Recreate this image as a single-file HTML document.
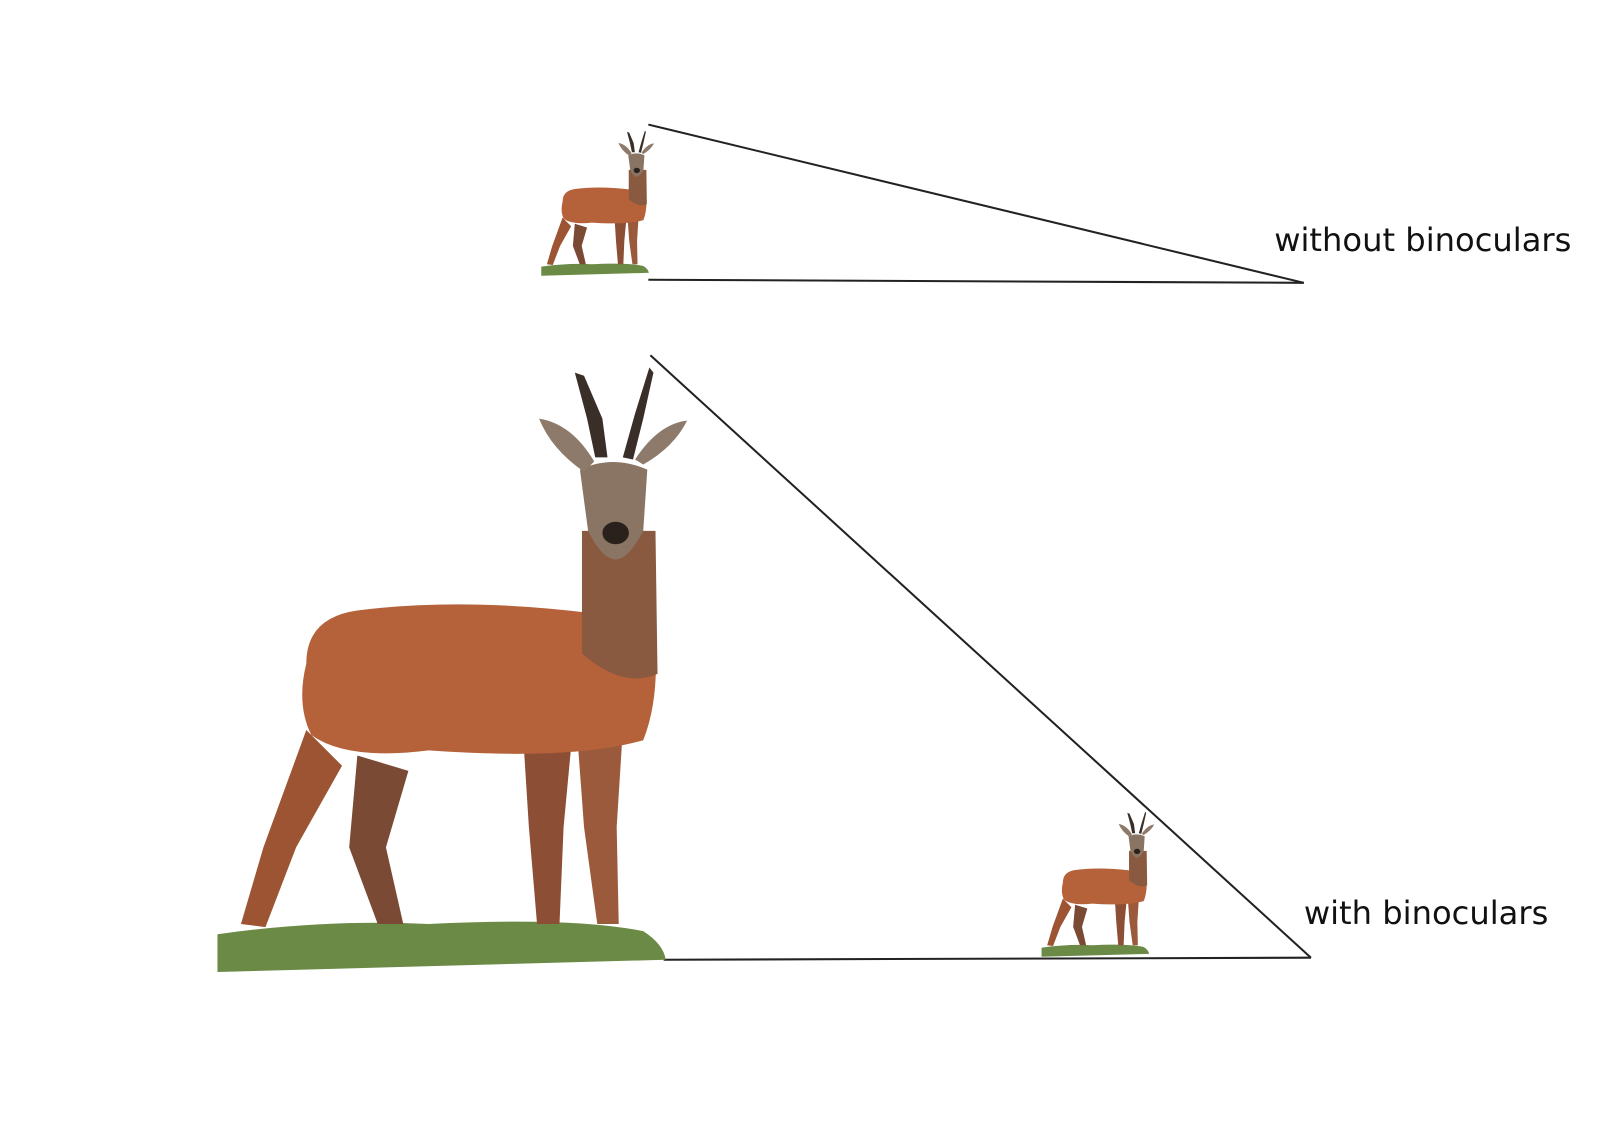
<!DOCTYPE html>
<html><head><meta charset="utf-8"><style>
html,body{margin:0;padding:0;background:#fff;}
svg{display:block;}
text{font-family:"DejaVu Sans","Liberation Sans",sans-serif;font-size:31.5px;fill:#111;}
</style></head><body>
<svg width="1600" height="1129" viewBox="0 0 1600 1129">
<defs>
<g id="deer">
  <path d="M213,915 Q320,900 420,905 Q560,898 630,912 Q650,925 652,940 L213,952 Z" fill="#6b8a45"/>
  <path d="M300,715 L258,830 L236,905 L260,908 L290,830 L335,750 Z" fill="#9c5433"/>
  <path d="M350,740 L342,830 L370,905 L395,905 L378,830 L400,755 Z" fill="#7a4a35"/>
  <path d="M512,715 L518,810 L526,905 L548,905 L552,810 L560,725 Z" fill="#8c4e35"/>
  <path d="M565,715 L572,810 L585,905 L606,905 L604,810 L610,715 Z" fill="#9c5a3c"/>
  <path d="M300,650 Q300,605 350,598 Q450,585 575,600 L640,610 Q648,680 630,725 Q560,745 420,735 Q340,745 305,720 Q290,690 300,650 Z" fill="#b5623a"/>
  <path d="M570,520 L642,520 L644,660 Q610,675 570,640 Z" fill="#8a5a40"/>
  <path d="M568,460 Q600,445 634,460 L630,520 Q615,548 603,548 Q590,548 576,520 Z" fill="#8a7565"/>
  <ellipse cx="603" cy="522" rx="13" ry="11" fill="#2a211d"/>
  <path d="M572,462 Q540,440 528,410 Q560,415 582,452 Z" fill="#8d7a6a"/>
  <path d="M630,455 Q660,438 673,412 Q645,415 622,450 Z" fill="#8d7a6a"/>
  <path d="M583,448 L575,410 L563,365 L572,368 L590,410 L595,448 Z" fill="#3a2f28"/>
  <path d="M610,448 L622,405 L636,360 L640,365 L630,410 L620,450 Z" fill="#3a2f28"/>
</g>
</defs>
<g transform="scale(1.021)">
<g stroke="#222" stroke-width="2" fill="none">
  <line x1="635" y1="122" x2="1277" y2="277"/>
  <line x1="635" y1="274" x2="1277" y2="277"/>
</g>
<use href="#deer" transform="translate(479,41.6) scale(0.24)"/>
<text x="1248" y="246">without binoculars</text>
<g stroke="#222" stroke-width="2" fill="none">
  <line x1="637" y1="348" x2="1284" y2="938"/>
  <line x1="650" y1="940" x2="1284" y2="938"/>
</g>
<use href="#deer"/>
<use href="#deer" transform="translate(969,708.6) scale(0.24)"/>
<text x="1277" y="905">with binoculars</text>
</g>
</svg>
</body></html>
